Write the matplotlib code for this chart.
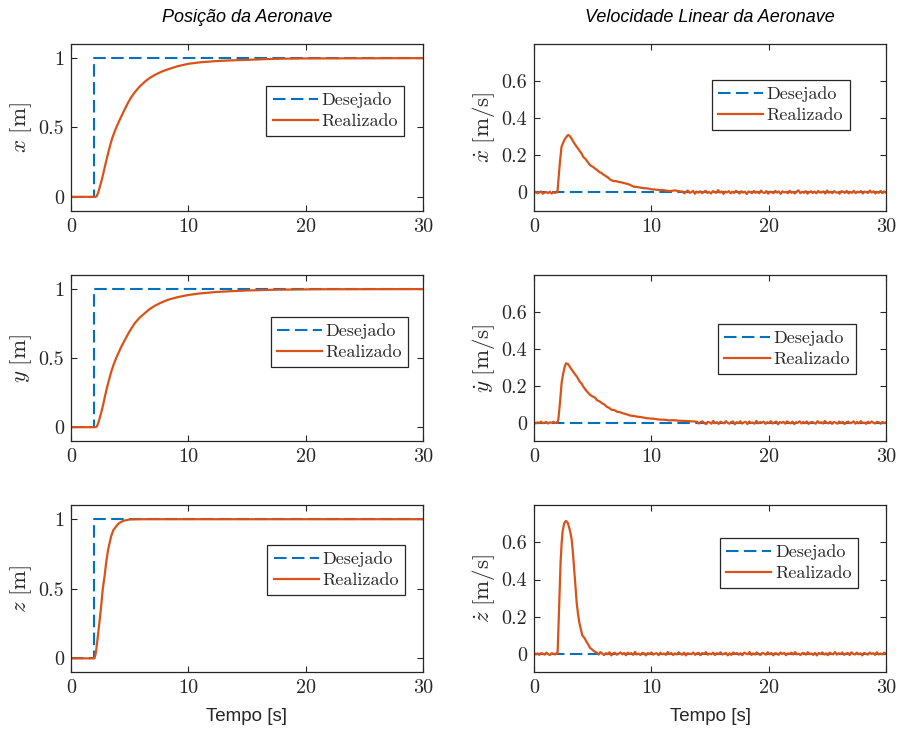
import numpy as np
import matplotlib
matplotlib.use("Agg")
import matplotlib.pyplot as plt

# === 1. Data (time in s) ===
# desired step: 0 -> 1 at t = 2 s
des_t = [0, 2, 2, 30]
des_pos = [0, 0, 1, 1]
des_vel_t = [0, 30]
des_vel = [0, 0]

# position x
px_t = [0, 2.1, 2.2, 2.32, 2.45, 2.6, 2.75, 2.9, 3.05, 3.2, 3.35, 3.5, 3.7, 3.9, 4.1, 4.3, 4.6, 4.87, 5.15,
        5.44, 5.85, 6.29, 6.7, 7.14, 7.7, 8.27, 9.1, 9.97, 11.0, 12.2, 13.6, 15.07, 16.5, 18.0, 20.0, 30.0]
px_v = [0, 0, 0.006, 0.03, 0.07, 0.116, 0.168, 0.222, 0.276, 0.327, 0.375, 0.42, 0.467, 0.508, 0.546, 0.582,
        0.635, 0.68, 0.72, 0.755, 0.795, 0.83, 0.857, 0.879, 0.902, 0.92, 0.942, 0.959, 0.97, 0.978, 0.984,
        0.988, 0.993, 0.996, 0.998, 1.0]

# position y
py_t = [0, 2.1, 2.2, 2.32, 2.45, 2.6, 2.75, 2.89, 3.05, 3.17, 3.33, 3.46, 3.66, 3.88, 4.1, 4.3, 4.6, 4.87, 5.15,
        5.44, 5.85, 6.29, 6.7, 7.14, 7.7, 8.27, 9.1, 9.97, 11.0, 12.2, 13.6, 15.07, 17.0, 19.0, 21.0, 30.0]
py_v = [0, 0, 0.005, 0.029, 0.068, 0.114, 0.166, 0.222, 0.28, 0.32, 0.372, 0.41, 0.46, 0.507, 0.548, 0.585,
        0.633, 0.676, 0.716, 0.754, 0.793, 0.826, 0.855, 0.879, 0.903, 0.923, 0.942, 0.957, 0.969, 0.978, 0.985,
        0.99, 0.995, 0.997, 0.999, 1.0]

# position z
pz_t = [0, 2.0, 2.12, 2.29, 2.45, 2.57, 2.71, 2.86, 3.0, 3.14, 3.29, 3.43, 3.6, 3.86, 4.1, 4.43, 5.0, 6.0, 30]
pz_v = [0, 0, 0.04, 0.16, 0.28, 0.376, 0.5, 0.59, 0.69, 0.77, 0.83, 0.88, 0.92, 0.95, 0.972, 0.988, 0.998, 1.0, 1.0]

# velocity x (transient part)
vx_t = [2.0, 2.06, 2.2, 2.34, 2.5, 2.63, 2.8, 2.91, 3.05, 3.2, 3.4, 3.63, 3.8, 3.9, 4.05, 4.2, 4.35, 4.5, 4.77,
        4.9, 5.05, 5.2, 5.34, 5.6, 5.75, 5.9, 6.1, 6.3, 6.5, 6.77, 7.0, 7.2, 7.4, 7.63, 7.9, 8.1, 8.3, 8.5, 8.7,
        8.9, 9.1, 9.34, 9.6, 9.8, 10.0, 10.2, 10.45, 10.7, 11.0, 11.3, 11.6, 12.0, 12.3, 12.5]
vx_v = [0.0, 0.05, 0.156, 0.244, 0.27, 0.288, 0.302, 0.31, 0.304, 0.29, 0.268, 0.246, 0.232, 0.222, 0.21, 0.19,
        0.183, 0.17, 0.147, 0.141, 0.136, 0.128, 0.122, 0.108, 0.104, 0.096, 0.088, 0.08, 0.068, 0.06, 0.06, 0.056,
        0.054, 0.05, 0.046, 0.042, 0.036, 0.03, 0.029, 0.027, 0.025, 0.022, 0.021, 0.019, 0.016, 0.015, 0.013,
        0.011, 0.012, 0.008, 0.006, 0.01, 0.006, 0.004]

# velocity y (transient part)
vy_t = [2.0, 2.08, 2.22, 2.36, 2.5, 2.62, 2.73, 2.9, 3.08, 3.3, 3.5, 3.65, 3.9, 4.05, 4.2, 4.5, 4.79, 5.05,
        5.2, 5.36, 5.6, 5.8, 6.0, 6.2, 6.4, 6.6, 6.85, 7.07, 7.3, 7.6, 7.9, 8.2, 8.5, 8.8, 9.1, 9.35, 9.6, 9.9,
        10.2, 10.5, 10.8, 11.2, 11.5, 11.9, 12.4, 12.9, 13.4, 13.9]
vy_v = [0.0, 0.02, 0.113, 0.22, 0.27, 0.305, 0.322, 0.318, 0.3, 0.28, 0.262, 0.25, 0.222, 0.212, 0.195, 0.17,
        0.15, 0.14, 0.136, 0.122, 0.115, 0.105, 0.098, 0.086, 0.08, 0.07, 0.068, 0.059, 0.057, 0.05, 0.045, 0.038,
        0.036, 0.032, 0.03, 0.027, 0.024, 0.022, 0.021, 0.018, 0.016, 0.015, 0.012, 0.013, 0.01, 0.009, 0.007, 0.005]

# velocity z (transient part)
vz_t = [2.0, 2.02, 2.16, 2.27, 2.36, 2.44, 2.58, 2.73, 2.88, 3.01, 3.11, 3.21, 3.31, 3.41, 3.52, 3.64,
        3.75, 3.86, 4.0, 4.12, 4.3, 4.49, 4.62, 4.77, 5.0, 5.2]
vz_v = [0.0, 0.02, 0.29, 0.5, 0.6, 0.66, 0.705, 0.716, 0.705, 0.677, 0.65, 0.616, 0.55, 0.467, 0.37, 0.274,
        0.215, 0.168, 0.13, 0.098, 0.085, 0.063, 0.05, 0.032, 0.02, 0.01]

# sensor noise around zero (mm/s)
vx_pre = [-3, 2, -6, -1, 4, -8, -2, 1, -5, 3, -7, 0, -4, 2]
vx_tail = [4, -6, 2, 9, -3, 0, 7, -8, 3, -2, 5, -5, 1, 8, -4, 2, -7, 6, 0, -3,
           11, -2, 4, -9, 3, -1, 6, -6, 2, -4, 8, 0, -7, 5, -2, 3, -10, 4, 1, -5,
           7, -3, 2, -6, 9, -1, -4, 6, -8, 3, 0, -5, 7, -2, 4, -9, 5, -1, 2, -6,
           8, -3, 1, -7, 4, 10, -5, 2, -3, 6, -8, 0, 5, -4, 3, -6, 7, -2, -1, 4,
           -7, 9, -3, 2, -5, 6, -2, 0, -8, 5, 3, -4, 7, -6, 1, -3, 8, -5, 2, -1,
           6, -7, 3, 0, -4, 9, -2, 5, -6, 1, -3, 7, -5, 4, -2]
vy_pre = [2, -4, 1, -2, 5, -3, 0, 3, -5, 1, -1, 4, -2, 0]
vy_tail = [-5, 3, 7, -2, -8, 4, 1, -6, 9, -3, 2, -7, 5, 0, -4, 8, -1, -6, 3, 6,
           -9, 2, -3, 7, -5, 1, 4, -8, 6, -2, 0, -6, 9, -4, 3, -1, 5, -7, 2, -3,
           8, -5, 1, 6, -9, 3, -2, 4, -6, 7, 0, -4, 5, -8, 2, -1, 7, -5, 3, -3,
           6, -7, 1, 4, -2, -6, 8, -3, 2, -5, 9, -1, -4, 5, -7, 3, 0, -6, 6, -2,
           4, -8, 2, 5, -3, -1, 7, -6, 3, -4, 8, -2, 0, -7, 5, -3, 6, -1, -5, 4,
           2, -6, 3, -2, 1]
vz_pre = [4, -3, 2, -6, 3, 1, -5, 6, -2, -7, 3, 0, -4, 5]
vz_tail = [6, -4, 9, 1, -7, 3, -2, 8, -9, 2, 5, -5, 0, 7, -3, 4, -8, 6, -1, 3,
           -6, 10, -4, 1, -7, 5, 2, -9, 4, -2, 7, -5, 0, 3, -8, 6, -3, 1, -6, 9,
           -2, 4, -7, 2, -4, 8, -1, -5, 6, -9, 3, 0, -3, 7, -6, 2, 5, -8, 4, -1,
           9, -5, 1, -3, 6, -7, 3, -2, 8, -4, 0, 5, -9, 2, -6, 7, -1, 4, -5, 3,
           -8, 6, 1, -3, 9, -6, 2, -4, 7, -2, -7, 5, 0, -5, 8, -3, 4, -9, 3, 1,
           -6, 7, -2, 5, -8, 2, -1, 6, -4, 9, -3, 0, -7, 4, 3, -5, 8, -2, 1, -6,
           5, -9, 4, -1, 7, -4, 2, -8, 6, 0, -3, 9, -5, 3, -2, 7, -6, 1, 4, -7,
           8, -1, -4, 6, -3, 2, -9, 5, 0, -5, 7, -2, 3, -6, 8, -4, 1, -3, 6, -1]


def build_vel(t_mid, v_mid, pre, tail):
    t_pre = np.linspace(0, 1.95, len(pre))
    t_tail = np.linspace(t_mid[-1] + 0.15, 30, len(tail))
    t = np.concatenate([t_pre, t_mid, t_tail])
    v = np.concatenate([np.array(pre) / 1000, v_mid, np.array(tail) / 1000])
    return t, v


vel = [build_vel(vx_t, vx_v, vx_pre, vx_tail),
       build_vel(vy_t, vy_v, vy_pre, vy_tail),
       build_vel(vz_t, vz_v, vz_pre, vz_tail)]
pos = [(px_t, px_v), (py_t, py_v), (pz_t, pz_v)]

pos_labels = [r"$x\ [\mathrm{m}]$", r"$y\ [\mathrm{m}]$", r"$z\ [\mathrm{m}]$"]
vel_labels = [r"$\dot{x}\ [\mathrm{m/s}]$", r"$\dot{y}\ [\mathrm{m/s}]$", r"$\dot{z}\ [\mathrm{m/s}]$"]

# === 2. Style ===
plt.rcParams["mathtext.fontset"] = "cm"
plt.rcParams["axes.unicode_minus"] = False
BLUE = "#0072BD"
ORANGE = "#D95319"
DARK = "#262626"
SANS = "Liberation Sans"
SERIF = "cmr10"

fig = plt.figure(figsize=(8.99, 7.31), dpi=100, facecolor="white")

W = 899.0
H = 731.0
col_x = [71, 534]
row_y = [(44.3, 210.7), (275.3, 441.0), (505.3, 672.3)]
ax_w = 352

# legend anchors (axes fraction)
leg_pos = [[(0.555, 0.749), (0.505, 0.785)],
           [(0.567, 0.748), (0.523, 0.706)],
           [(0.558, 0.762), (0.528, 0.804)]]


def style_axes(ax, ylim, yticks, yticklabels):
    ax.set_xlim(0, 30)
    ax.set_ylim(*ylim)
    ax.set_xticks([0, 10, 20, 30])
    ax.set_xticklabels(["0", "10", "20", "30"], fontfamily=SERIF, fontsize=14.5, color=DARK)
    ax.set_yticks(yticks)
    ax.set_yticklabels(yticklabels, fontfamily=SERIF, fontsize=14.5, color=DARK)
    ax.tick_params(direction="in", length=4.5, width=0.8, color=DARK, top=True, right=True, pad=5)
    for sp in ax.spines.values():
        sp.set_color(DARK)
        sp.set_linewidth(0.9)


for r in range(3):
    top, bot = row_y[r]
    for c in range(2):
        ax = fig.add_axes([col_x[c] / W, 1 - bot / H, ax_w / W, (bot - top) / H])
        if c == 0:
            ax.plot(des_t, des_pos, color=BLUE, lw=1.5, dashes=(6, 2.6), label="Desejado")
            ax.plot(pos[r][0], pos[r][1], color=ORANGE, lw=1.6, label="Realizado")
            style_axes(ax, (-0.1, 1.1), [0, 0.5, 1], ["0", "0.5", "1"])
            ax.set_ylabel(pos_labels[r], fontsize=16.5, color=DARK)
        else:
            ax.plot(des_vel_t, des_vel, color=BLUE, lw=1.5, dashes=(6, 2.6), label="Desejado")
            ax.plot(vel[r][0], vel[r][1], color=ORANGE, lw=1.6, label="Realizado")
            style_axes(ax, (-0.1, 0.8), [0, 0.2, 0.4, 0.6], ["0", "0.2", "0.4", "0.6"])
            ax.set_ylabel(vel_labels[r], fontsize=16.5, color=DARK)
        ax.yaxis.set_label_coords(-0.105, 0.5)

        leg = ax.legend(loc="upper left", bbox_to_anchor=leg_pos[r][c], borderaxespad=0,
                        prop={"family": SERIF, "size": 13}, fancybox=False, framealpha=1,
                        edgecolor=DARK, handlelength=2.5, handletextpad=0.2,
                        labelspacing=0.3, borderpad=0.35)
        leg.get_frame().set_linewidth(0.9)
        for txt in leg.get_texts():
            txt.set_color(DARK)

        if r == 0:
            ax.set_title(["Posição da Aeronave", "Velocidade Linear da Aeronave"][c],
                         fontfamily=SANS, fontstyle="italic", fontsize=13, pad=16, color="black")
        if r == 2:
            ax.set_xlabel("Tempo [s]", fontfamily=SANS, fontsize=13.5, color=DARK, labelpad=8)

fig.savefig("out.png", dpi=100, facecolor="white")
